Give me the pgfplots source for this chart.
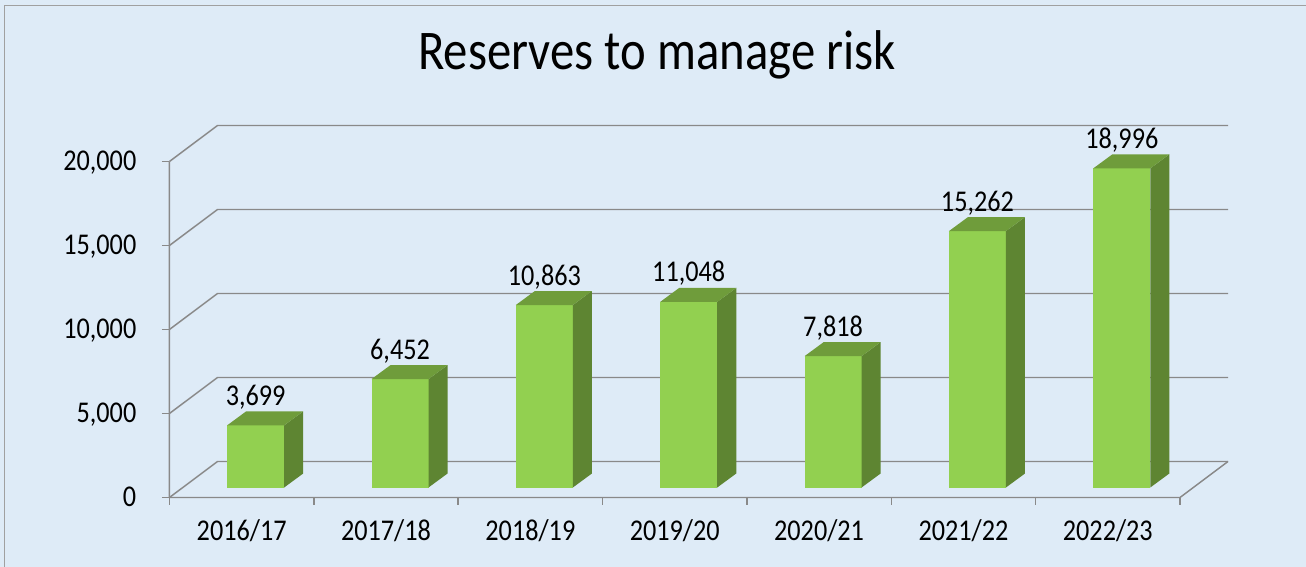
\documentclass[border=0pt]{standalone}
\usepackage{fontspec}
\setmainfont{Carlito}[FakeStretch=0.87]
\usepackage{pgfplots}
\usepackage{pgfplotstable}
\pgfplotsset{compat=1.18}
\definecolor{bg}{HTML}{DEEBF7}
\definecolor{bordc}{HTML}{A0A0A0}
\definecolor{gridc}{HTML}{898989}
\definecolor{frontc}{HTML}{92D050}
\definecolor{topc}{HTML}{6F9C3B}
\definecolor{sidec}{HTML}{5E8532}
\newcommand\tickfont{\fontsize{22.6}{26}\selectfont}

\pgfplotstableread{
x v
0 3699
1 6452
2 10863
3 11048
4 7818
5 15262
6 18996
}\datatable

% 3D bar: #1 = category index, #2 = value
\newcommand\barthreed[2]{%
 \edef\bxl{\fpeval{#1+0.097-0.1975}}%
 \edef\bxr{\fpeval{#1+0.097+0.1975}}%
 \edef\bxlb{\fpeval{#1+0.097-0.1975+0.1317}}%
 \edef\bxrb{\fpeval{#1+0.097+0.1975+0.1317}}%
 \edef\byt{\fpeval{#2+595}}%
 \edef\bytb{\fpeval{#2+595+833}}%
 \edef\btmp{%
 \noexpand\addplot[fill=frontc, draw=none, mark=none] coordinates {(\bxl,595) (\bxr,595) (\bxr,\byt) (\bxl,\byt)} -- cycle;
 \noexpand\addplot[fill=sidec, draw=none, mark=none] coordinates {(\bxr,595) (\bxrb,1428) (\bxrb,\bytb) (\bxr,\byt)} -- cycle;
 \noexpand\addplot[fill=topc, draw=none, mark=none] coordinates {(\bxl,\byt) (\bxr,\byt) (\bxrb,\bytb) (\bxlb,\bytb)} -- cycle;
 }\btmp}
% gridline at value #1
\newcommand\gridl[1]{%
 \edef\gtmp{\noexpand\addplot[gridc, line width=1.1pt, mark=none] coordinates {(-0.5,#1) (-0.1673,\fpeval{#1+2143}) (6.8327,\fpeval{#1+2143})};}\gtmp}

\begin{document}
\begin{tikzpicture}
\fill[bg] (0,0) rectangle (979.5pt,425.25pt);
\draw[bordc, line width=1.1pt] (3.4pt,0) -- (3.4pt,421.1pt) -- (979.5pt,421.1pt);
\node[anchor=base, inner sep=0pt, font=\fontsize{42}{50}\selectfont] at (492.75pt,372.75pt) {Reserves to manage risk};
\begin{axis}[
 at={(127.1pt,52.125pt)}, anchor=south west,
 scale only axis, width=793.9pt, height=280.125pt,
 xmin=-0.5, xmax=6.8327, ymin=0, ymax=22232,
 clip=false,
 axis line style={draw=none},
 tick align=outside, xtick pos=bottom, ytick pos=left,
 major tick length=5.6pt,
 tick style={gridc, line width=1.1pt},
 xtick={-0.5,0.5,...,6.5}, xticklabels={},
 extra x ticks={0,1,2,3,4,5,6},
 extra x tick labels={2016/17,2017/18,2018/19,2019/20,2020/21,2021/22,2022/23},
 extra x tick style={major tick length=0pt},
 ytick={0,5000,10000,15000,20000},
 scaled y ticks=false,
 /pgf/number format/.cd, 1000 sep={,}, assume math mode=true, /pgfplots/.cd,
 ticklabel style={font=\tickfont, inner sep=0pt, text=black},
 xticklabel style={anchor=base, yshift=-32.6pt},
 yticklabel style={anchor=base east, xshift=-19.1pt, yshift=-7.1pt},
]
\gridl{0}\gridl{5000}\gridl{10000}\gridl{15000}\gridl{20000}
\addplot[gridc, line width=1.1pt, mark=none] coordinates {(-0.5,20000) (-0.5,0) (6.5,0) (6.8327,2143)};
\barthreed{0}{3699}
\barthreed{1}{6452}
\barthreed{2}{10863}
\barthreed{3}{11048}
\barthreed{4}{7818}
\barthreed{5}{15262}
\barthreed{6}{18996}
\addplot[draw=none, mark=none, point meta=explicit,
 nodes near coords={\pgfmathprintnumber[1000 sep={,}, assume math mode=true]{\pgfplotspointmeta}},
 nodes near coords style={anchor=base, inner sep=0pt, font=\tickfont, text=black}]
 table[x expr=\thisrow{x}+0.097, y expr=\thisrow{v}+1780, meta=v] {\datatable};
\end{axis}
\pgfresetboundingbox
\useasboundingbox (0,0) rectangle (979.5pt,425.25pt);
\end{tikzpicture}
\end{document}
